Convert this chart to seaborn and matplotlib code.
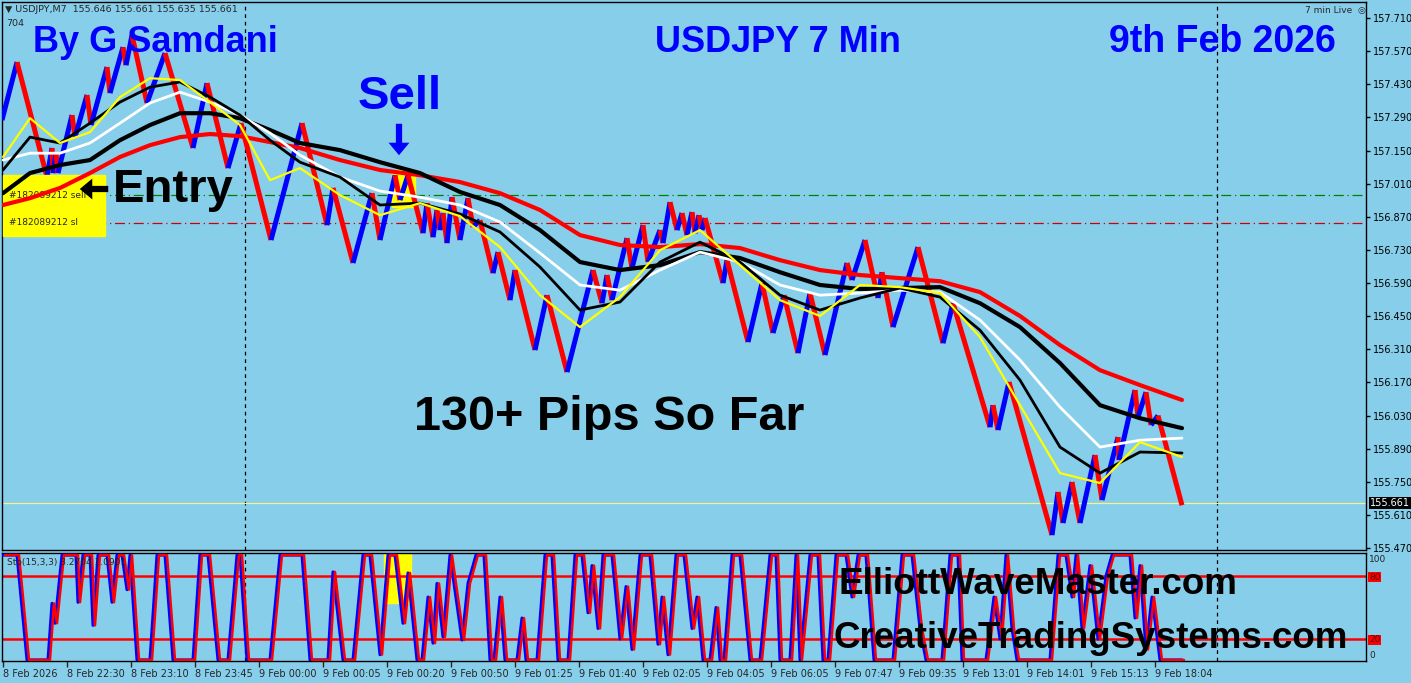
import matplotlib
matplotlib.use("Agg")
import matplotlib.pyplot as plt
import seaborn as sns
from matplotlib.patches import Rectangle

# ---- data ----
# zigzag pivots: (bar, price)
zigzag = [
    (2, 157.279), (17, 157.524), (47, 157.038), (52, 157.161), (53, 157.055),
    (56, 157.139), (58, 157.055), (72, 157.300), (75, 157.207), (87, 157.385),
    (91, 157.258), (107, 157.503), (110, 157.393), (123, 157.587), (126, 157.511),
    (132, 157.638), (147, 157.351), (165, 157.562), (193, 157.161), (207, 157.435),
    (228, 157.076), (241, 157.266), (271, 156.772), (302, 157.266), (327, 156.835),
    (333, 156.992), (353, 156.675), (372, 156.970), (380, 156.772), (395, 157.046),
    (400, 156.941), (408, 157.046), (423, 156.801), (427, 156.928), (433, 156.784),
    (437, 156.899), (440, 156.814), (443, 156.886), (447, 156.759), (452, 156.953),
    (460, 156.772), (468, 156.949), (473, 156.827), (480, 156.856), (493, 156.632),
    (498, 156.721), (510, 156.518), (515, 156.645), (535, 156.307), (547, 156.539),
    (567, 156.214), (593, 156.645), (602, 156.505), (607, 156.624), (612, 156.518),
    (627, 156.780), (632, 156.653), (643, 156.835), (648, 156.679), (660, 156.814),
    (663, 156.759), (670, 156.932), (677, 156.814), (682, 156.886), (687, 156.793),
    (692, 156.890), (695, 156.801), (699, 156.877), (702, 156.814), (705, 156.865),
    (723, 156.590), (727, 156.687), (748, 156.341), (762, 156.590), (773, 156.379),
    (784, 156.539), (798, 156.294), (810, 156.548), (825, 156.286), (847, 156.675),
    (852, 156.603), (865, 156.772), (878, 156.527), (882, 156.636), (893, 156.404),
    (918, 156.742), (943, 156.336), (953, 156.505), (990, 155.981), (993, 156.074),
    (998, 155.969), (1009, 156.172), (1052, 155.525), (1058, 155.707), (1063, 155.576),
    (1072, 155.749), (1080, 155.576), (1095, 155.863), (1102, 155.673), (1118, 155.939),
    (1119, 155.842), (1135, 156.138), (1138, 156.024), (1146, 156.129), (1151, 155.990),
    (1158, 156.030), (1182, 155.651),
]

ma_bar = [3, 30, 60, 90, 120, 150, 180, 210, 240, 270, 300, 340, 380, 420, 460, 500, 540,
          580, 620, 660, 700, 740, 780, 820, 860, 900, 940, 980, 1020, 1060, 1100, 1140, 1182]
ma_yellow = [157.123, 157.287, 157.182, 157.228, 157.376, 157.456, 157.448, 157.355, 157.258,
             157.025, 157.076, 156.962, 156.877, 156.928, 156.873, 156.742, 156.539, 156.404,
             156.531, 156.729, 156.814, 156.666, 156.518, 156.451, 156.582, 156.573, 156.548,
             156.362, 156.074, 155.787, 155.745, 155.918, 155.855]
ma_black_fast = [157.068, 157.207, 157.182, 157.266, 157.355, 157.418, 157.440, 157.376, 157.300,
                 157.194, 157.101, 157.038, 156.920, 156.928, 156.882, 156.806, 156.658, 156.476,
                 156.510, 156.679, 156.763, 156.679, 156.539, 156.476, 156.527, 156.569, 156.531,
                 156.391, 156.180, 155.897, 155.787, 155.876, 155.872]
ma_white = [157.110, 157.139, 157.139, 157.182, 157.266, 157.351, 157.397, 157.355, 157.300,
            157.224, 157.131, 157.038, 156.979, 156.953, 156.920, 156.848, 156.717, 156.582,
            156.560, 156.645, 156.721, 156.679, 156.582, 156.539, 156.548, 156.560, 156.552,
            156.434, 156.265, 156.066, 155.897, 155.926, 155.935]
ma_black_slow = [156.970, 157.055, 157.089, 157.110, 157.194, 157.258, 157.308, 157.308, 157.287,
                 157.237, 157.182, 157.152, 157.101, 157.055, 156.975, 156.920, 156.814, 156.679,
                 156.645, 156.666, 156.721, 156.696, 156.636, 156.582, 156.565, 156.569, 156.573,
                 156.505, 156.404, 156.252, 156.074, 156.019, 155.977]
ma_red = [156.920, 156.949, 156.992, 157.055, 157.123, 157.173, 157.207, 157.220, 157.211,
          157.186, 157.161, 157.110, 157.068, 157.046, 157.017, 156.970, 156.899, 156.793,
          156.751, 156.742, 156.755, 156.738, 156.687, 156.645, 156.624, 156.611, 156.598,
          156.552, 156.451, 156.328, 156.222, 156.159, 156.096]

# stochastic %K pivots: (bar, value)
stoch = [
    (3, 100), (17, 100), (27, 0), (48, 0), (52, 54), (55, 35), (62, 100), (76, 100), (78, 55),
    (83, 100), (90, 100), (93, 33), (98, 100), (107, 100), (112, 55), (117, 100), (122, 100),
    (127, 67), (130, 100), (137, 0), (150, 0), (157, 100), (165, 100), (173, 0), (193, 0),
    (200, 100), (208, 100), (218, 0), (228, 0), (237, 100), (240, 100), (247, 0), (270, 0),
    (280, 100), (302, 100), (310, 0), (328, 0), (333, 84), (343, 0), (353, 0), (363, 100),
    (370, 100), (380, 5), (388, 100), (395, 100), (403, 35), (408, 83), (417, 0), (422, 0),
    (428, 60), (433, 16), (437, 73), (443, 22), (450, 100), (462, 19), (468, 73), (476, 100),
    (484, 100), (490, 0), (494, 0), (500, 60), (505, 0), (517, 0), (522, 40), (526, 0),
    (537, 0), (545, 100), (552, 100), (558, 0), (568, 0), (575, 100), (582, 100), (588, 45),
    (592, 90), (598, 30), (603, 100), (612, 100), (620, 20), (626, 70), (632, 10), (640, 100),
    (650, 100), (658, 15), (662, 60), (668, 5), (676, 100), (684, 100), (692, 30), (697, 60),
    (703, 0), (710, 0), (716, 50), (720, 0), (724, 0), (732, 100), (740, 100), (746, 40),
    (750, 0), (760, 0), (770, 100), (776, 100), (780, 0), (790, 0), (796, 100), (800, 0),
    (810, 100), (818, 100), (823, 0), (828, 0), (836, 100), (846, 100), (852, 60), (858, 100),
    (866, 100), (874, 0), (893, 0), (902, 100), (912, 100), (920, 30), (926, 0), (942, 0),
    (950, 100), (958, 100), (962, 0), (986, 0), (994, 60), (1000, 20), (1006, 100), (1012, 30),
    (1017, 0), (1050, 0), (1058, 100), (1066, 100), (1072, 60), (1076, 100), (1082, 30),
    (1090, 90), (1098, 20), (1106, 80), (1112, 100), (1130, 100), (1135, 40), (1140, 90),
    (1146, 10), (1152, 60), (1160, 0), (1182, 0),
]

price_ticks = [157.710, 157.570, 157.430, 157.290, 157.150, 157.010, 156.870, 156.730, 156.590,
               156.450, 156.310, 156.170, 156.030, 155.890, 155.750, 155.610, 155.470]
time_labels = ["8 Feb 2026", "8 Feb 22:30", "8 Feb 23:10", "8 Feb 23:45", "9 Feb 00:00",
               "9 Feb 00:05", "9 Feb 00:20", "9 Feb 00:50", "9 Feb 01:25", "9 Feb 01:40",
               "9 Feb 02:05", "9 Feb 04:05", "9 Feb 06:05", "9 Feb 07:47", "9 Feb 09:35",
               "9 Feb 13:01", "9 Feb 14:01", "9 Feb 15:13", "9 Feb 18:04"]
separators = [245, 1217]
entry_price = 156.962
sl_price = 156.844
bid_price = 155.661

# ---- style ----
W, H = 1411, 683
SKY = "#87CEEB"
BLUE = "#0000FF"
RED = "#FF0000"

sns.set_style("white")
plt.rcParams["font.family"] = ["DejaVu Sans"]
BIG = ["Liberation Sans", "DejaVu Sans"]


def fx(px):
    return px / W


def fy(py):
    return 1 - py / H


fig = plt.figure(figsize=(W / 100, H / 100), dpi=100, facecolor=SKY)
ax = fig.add_axes([fx(2), fy(550), fx(1366) - fx(2), fy(2) - fy(550)])
ax2 = fig.add_axes([fx(2), fy(661), fx(1366) - fx(2), fy(553) - fy(661)])

for a in (ax, ax2):
    a.set_facecolor(SKY)
    a.set_xlim(2, 1366)
    for s in a.spines.values():
        s.set_color("black")
        s.set_linewidth(1)
    for sx in separators:
        a.axvline(sx, color="black", lw=0.9, ls=(0, (3, 3)), zorder=1)

ax.set_ylim(155.462, 157.778)
ax2.set_ylim(-1, 102)

# price panel
ax.axhline(entry_price, color="#008000", lw=0.9, ls=(0, (8, 3, 1, 3)), zorder=1)
ax.axhline(sl_price, color="#D00000", lw=0.9, ls=(0, (8, 3, 1, 3)), zorder=1)
ax.axhline(bid_price, color="#F4F48A", lw=0.9, zorder=1)

ax.add_patch(Rectangle((392, 156.911), 23, 0.157, color="#FFFF00", zorder=1.5))
ax.add_patch(Rectangle((3, 156.789), 102, 0.257, color="#FFFF00", zorder=4))
ax.text(9, 156.962, "#182089212 sell", fontsize=6.5, va="center", zorder=5)
ax.text(9, 156.845, "#182089212 sl", fontsize=6.5, va="center", zorder=5)

for (x0, p0), (x1, p1) in zip(zigzag, zigzag[1:]):
    ax.plot([x0, x1], [p0, p1], color=BLUE if p1 > p0 else RED, lw=3.6,
            solid_capstyle="butt", zorder=3)

for vals, col, lw in [(ma_red, RED, 3.0), (ma_black_slow, "black", 3.0),
                      (ma_white, "white", 2.0), (ma_black_fast, "black", 2.0),
                      (ma_yellow, "#FFFF00", 1.6)]:
    sns.lineplot(x=ma_bar, y=vals, ax=ax, color=col, lw=lw, estimator=None,
                 sort=False, zorder=6)

ax.set_xticks([])
ax.yaxis.tick_right()
ax.set_yticks(price_ticks)
ax.set_yticklabels([f"{p:.3f}" for p in price_ticks])
ax.tick_params(axis="y", direction="out", length=3, width=1, labelsize=7, pad=2,
               colors="black", right=True)
ax.set_ylabel("")

# stochastic panel
ax2.add_patch(Rectangle((384, 54), 27, 50, color="#FFFF00", zorder=1.5))
ax2.axhline(80, color=RED, lw=1.8, zorder=2)
ax2.axhline(20, color=RED, lw=1.8, zorder=2)
sx = [b for b, v in stoch]
sv = [v for b, v in stoch]
sns.lineplot(x=sx, y=sv, ax=ax2, color=BLUE, lw=2.2, estimator=None, sort=False, zorder=3)
sns.lineplot(x=[b + 2 for b in sx], y=sv, ax=ax2, color=RED, lw=1.8, estimator=None,
             sort=False, zorder=4)
ax2.set_yticks([])
ax2.set_ylabel("")
ax2.set_xticks([3 + 64 * i for i in range(len(time_labels))])
ax2.set_xticklabels(time_labels, fontsize=7, ha="left")
ax2.tick_params(axis="x", direction="out", length=4, width=1, pad=2, bottom=True)
ax2.text(7, 93, "Sto(15,3,3) 3.2704 1.0901", fontsize=6.5, va="center", zorder=5)

# right-hand labels of the stochastic and the bid tag
fig.text(fx(1369), fy(560), "100", fontsize=6.5, va="center")
fig.text(fx(1369), fy(655), "0", fontsize=6.5, va="center")
for lvl, py in [("80", 577), ("20", 640)]:
    fig.text(fx(1369), fy(py), lvl, fontsize=6.5, va="center", color="#600000",
             bbox=dict(boxstyle="square,pad=0.1", fc=RED, ec="none"))
fig.text(fx(1370), fy(503), "155.661", fontsize=7, va="center", color="white",
         bbox=dict(boxstyle="square,pad=0.15", fc="black", ec="none"))

# header texts
fig.text(fx(5), fy(10), "\u25bc USDJPY,M7  155.646 155.661 155.635 155.661", fontsize=6.8,
         va="center")
fig.text(fx(6), fy(24), "704", fontsize=6.8, va="center")
fig.text(fx(1305), fy(11), "7 min Live  \u25ce", fontsize=6.5, va="center")

# annotations
fig.text(fx(155), fy(42), "By G Samdani", family=BIG, fontsize=26, weight="bold",
         color=BLUE, ha="center", va="center")
fig.text(fx(778), fy(42), "USDJPY 7 Min", family=BIG, fontsize=26, weight="bold",
         color=BLUE, ha="center", va="center")
fig.text(fx(1222), fy(42), "9th Feb 2026", family=BIG, fontsize=27, weight="bold",
         color=BLUE, ha="center", va="center")
fig.text(fx(400), fy(97), "Sell", family=BIG, fontsize=34, weight="bold",
         color=BLUE, ha="center", va="center")
fig.text(fx(113), fy(190), "Entry", family=BIG, fontsize=34, weight="bold",
         color="black", ha="left", va="center", zorder=10)
fig.text(fx(609), fy(418), "130+ Pips So Far", family=BIG, fontsize=35, weight="bold",
         color="black", ha="center", va="center")
fig.text(fx(1038), fy(585), "ElliottWaveMaster.com", family=BIG, fontsize=26.5,
         weight="bold", color="black", ha="center", va="center", zorder=10)
fig.text(fx(1091), fy(638), "CreativeTradingSystems.com", family=BIG, fontsize=26.5,
         weight="bold", color="black", ha="center", va="center", zorder=10)

arrow_style = "simple,head_length=0.9,head_width=1.5,tail_width=0.45"
ax.annotate("", xy=(fx(399), fy(158)), xytext=(fx(399), fy(121)), xycoords="figure fraction",
            textcoords="figure fraction",
            arrowprops=dict(arrowstyle=arrow_style, color=BLUE, lw=0))
ax.annotate("", xy=(fx(77), fy(189)), xytext=(fx(111), fy(189)), xycoords="figure fraction",
            textcoords="figure fraction",
            arrowprops=dict(arrowstyle=arrow_style, color="black", lw=0), zorder=10)

fig.savefig("out.png", dpi=100, facecolor=SKY)
